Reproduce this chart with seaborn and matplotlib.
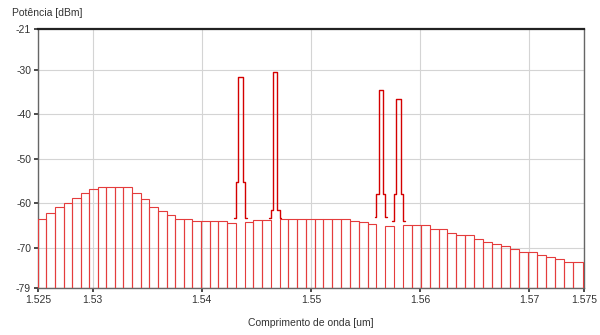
import numpy as np
import pandas as pd
import matplotlib
matplotlib.use("Agg")
import matplotlib.pyplot as plt
import seaborn as sns

# ---- data ----
# noise-floor bin edges (um), one bin per ~100 GHz channel slot
bin_edges_um = [1.52500, 1.52578, 1.52656, 1.52734, 1.52812, 1.52890, 1.52969,
                1.53047, 1.53126, 1.53204, 1.53283, 1.53362, 1.53440, 1.53519,
                1.53598, 1.53677, 1.53756, 1.53836, 1.53915, 1.53994, 1.54074,
                1.54153, 1.54233, 1.54313, 1.54392, 1.54472, 1.54552, 1.54632,
                1.54712, 1.54793, 1.54873, 1.54953, 1.55034, 1.55114, 1.55195,
                1.55276, 1.55356, 1.55437, 1.55518, 1.55599, 1.55680, 1.55761,
                1.55843, 1.55924, 1.56006, 1.56087, 1.56169, 1.56250, 1.56332,
                1.56414, 1.56496, 1.56578, 1.56660, 1.56743, 1.56825, 1.56907,
                1.56990, 1.57072, 1.57155, 1.57238, 1.57321, 1.57404, 1.57487]

# noise floor per bin (dBm); None = channel slot occupied by a signal
floor_dbm = [-63.6, -62.3, -61.0, -60.1, -58.8, -57.8, -56.9, -56.5, -56.5, -56.5,
             -56.5, -57.8, -59.2, -61.0, -61.8, -62.7, -63.6, -63.6, -64.0, -64.0,
             -64.0, -64.0, -64.4, None, -64.2, -63.8, -63.8, None, -63.5, -63.5,
             -63.5, -63.5, -63.5, -63.5, -63.5, -63.5, -64.0, -64.2, -64.6, None,
             -65.2, None, -64.9, -64.9, -64.9, -65.9, -65.9, -66.7, -67.2, -67.2,
             -68.1, -68.7, -69.2, -69.7, -70.4, -70.9, -70.9, -71.7, -72.2, -72.6,
             -73.2, -73.2]

# signal channels
peak_center_um = [1.54353, 1.54672, 1.55640, 1.55802]
peak_top_dbm = [-31.6, -30.6, -34.7, -36.6]
peak_shoulder_dbm = [-55.3, -61.5, -57.9, -57.9]
peak_foot_dbm = [-63.4, -63.3, -63.2, -64.0]

x_ticks = [1.525, 1.53, 1.54, 1.55, 1.56, 1.57, 1.575]
x_tick_labels = ["1.525", "1.53", "1.54", "1.55", "1.56", "1.57", "1.575"]
y_ticks = [-79, -70, -60, -50, -40, -30, -21]
y_tick_labels = ["-79", "-70", "-60", "-50", "-40", "-30", "-21"]

# ---- style ----
sns.set_theme(style="whitegrid")
plt.rcParams["font.family"] = ["Liberation Sans", "DejaVu Sans"]

fig = plt.figure(figsize=(6.0, 3.35), dpi=100)
ax = fig.add_axes([0.0633, 0.1415, 0.9100, 0.7705])

y_base = y_ticks[0]
edges = np.array(bin_edges_um)
vals = np.array([np.nan if v is None else v for v in floor_dbm], dtype=float)
n = len(vals)
left = edges[:n]
width = np.diff(edges[:n + 1])
mask = ~np.isnan(vals)

ax.bar(left[mask], vals[mask] - y_base, width=width[mask], bottom=y_base,
       align="edge", fill=False, edgecolor="#e43c3c", linewidth=0.8, zorder=3)

# signal traces (stepped shape: foot -> shoulder -> top)
fw, sw, tw = 0.00057, 0.00042, 0.00021
rows = []
for i, (c, top, sh, ft) in enumerate(zip(peak_center_um, peak_top_dbm,
                                         peak_shoulder_dbm, peak_foot_dbm)):
    xs = [c - fw, c - sw, c - sw, c - tw, c - tw, c + tw, c + tw, c + sw, c + sw, c + fw]
    ys = [ft, ft, sh, sh, top, top, sh, sh, ft, ft]
    for j, (xx, yy) in enumerate(zip(xs, ys)):
        rows.append({"wl": xx, "dbm": yy, "peak": i, "order": j})
peaks_df = pd.DataFrame(rows)
sns.lineplot(data=peaks_df, x="wl", y="dbm", units="peak", estimator=None,
             sort=False, color="#d40000", linewidth=1.0, ax=ax, zorder=4)

ax.set_xlim(x_ticks[0], x_ticks[-1])
ax.set_ylim(y_ticks[0], y_ticks[-1])
ax.set_xticks(x_ticks)
ax.set_xticklabels(x_tick_labels)
ax.set_yticks(y_ticks)
ax.set_yticklabels(y_tick_labels)
ax.set_xlabel("")
ax.set_ylabel("")
ax.grid(True, color="#d4d4d4", linewidth=0.8)
ax.tick_params(axis="both", labelsize=7.5, colors="#333333", length=3,
               direction="out", left=True, bottom=True, pad=2)
for s in ["left", "bottom", "right"]:
    ax.spines[s].set_color("#666666")
    ax.spines[s].set_linewidth(1.0)
ax.spines["top"].set_color("#222222")
ax.spines["top"].set_linewidth(1.6)

fig.text(0.02, 0.962, "Potência [dBm]", fontsize=7.5, color="#333333",
         ha="left", va="center")
fig.text(0.518, 0.036, "Comprimento de onda [um]", fontsize=7.5,
         color="#333333", ha="center", va="center")

fig.savefig("out.png", dpi=100)
